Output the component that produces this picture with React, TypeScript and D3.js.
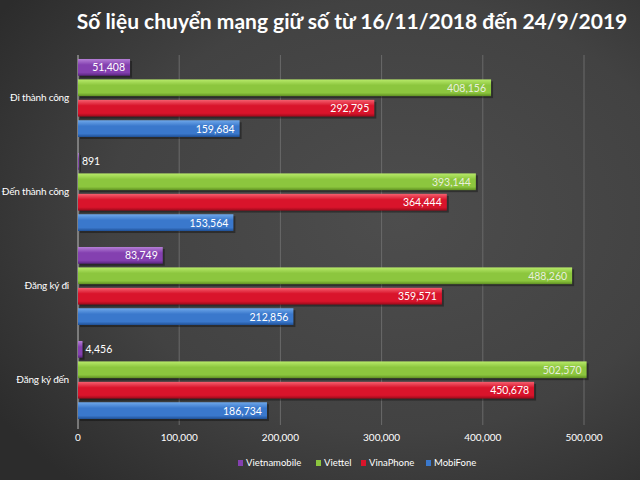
import React from 'react';
import * as d3 from 'd3';

const categories = ['Đi thành công', 'Đến thành công', 'Đăng ký đi', 'Đăng ký đến'];
const seriesNames = ['Vietnamobile', 'Viettel', 'VinaPhone', 'MobiFone'];
const vietnamobile = [51408, 891, 83749, 4456];
const viettel = [408156, 393144, 488260, 502570];
const vinaphone = [292795, 364444, 359571, 450678];
const mobifone = [159684, 153564, 212856, 186734];
const xTicks = [0, 100000, 200000, 300000, 400000, 500000];

const seriesValues = [vietnamobile, viettel, vinaphone, mobifone];
const colors = [
  { light: '#b57fd6', base: '#8440b0', dark: '#5a2480', text: '#ffffff' },
  { light: '#b8ea6a', base: '#8cc63e', dark: '#5f8f22', text: '#e8eedc' },
  { light: '#f5606f', base: '#d9142b', dark: '#9a0a1a', text: '#ffffff' },
  { light: '#6fa8ea', base: '#3a78cc', dark: '#1f4f94', text: '#ffffff' },
];

const width = 640;
const height = 480;
const margin = { top: 55, right: 55, bottom: 55, left: 78 };

export default function App() {
  const x = d3.scaleLinear().domain([0, 500000]).range([margin.left, 584]);
  const y0 = d3.scaleBand().domain(categories).range([51, 427]).paddingInner(0.17).paddingOuter(0.085);
  const y1 = d3.scaleBand().domain(seriesNames).range([0, y0.bandwidth()]).paddingInner(0.18).paddingOuter(0);
  const fmt = d3.format(',');
  const font = 'Lato, "Open Sans", sans-serif';

  return (
    <svg width={width} height={height} style={{ display: 'block', position: 'absolute', left: 0, top: 0 }}>
      <defs>
        <radialGradient id="bg" cx="0.62" cy="0.45" r="0.75">
          <stop offset="0" stopColor="#4d4d4d" />
          <stop offset="0.6" stopColor="#424242" />
          <stop offset="1" stopColor="#2c2c2c" />
        </radialGradient>
        {colors.map((c, i) => (
          <linearGradient key={i} id={`g${i}`} x1="0" y1="0" x2="0" y2="1">
            <stop offset="0" stopColor={c.light} />
            <stop offset="0.35" stopColor={c.base} />
            <stop offset="0.8" stopColor={c.base} />
            <stop offset="1" stopColor={c.dark} />
          </linearGradient>
        ))}
      </defs>
      <rect width={width} height={height} fill="url(#bg)" />
      <text x={352} y={29} textAnchor="middle" fill="#ffffff" fontFamily={font} fontWeight="bold" fontSize={21}>
        Số liệu chuyển mạng giữ số từ 16/11/2018 đến 24/9/2019
      </text>

      {xTicks.map(t => (
        <g key={t}>
          {t > 0 && <line x1={x(t)} x2={x(t)} y1={55} y2={425} stroke="#6a6a6a" strokeWidth={1} />}
          <text x={x(t)} y={441} textAnchor="middle" fill="#ffffff" fontFamily={font} fontSize={10}>
            {fmt(t)}
          </text>
        </g>
      ))}
      <line x1={x(0)} x2={x(0)} y1={55} y2={429} stroke="#bdbdbd" strokeWidth={1} />

      {categories.map((cat, ci) => (
        <g key={cat} transform={`translate(0,${y0(cat)})`}>
          <text x={69} y={y0.bandwidth() / 2 + 3} textAnchor="end" fill="#ffffff" fontFamily={font} fontSize={10} letterSpacing={-0.2}>
            {cat}
          </text>
          {seriesNames.map((s, si) => {
            const v = seriesValues[si][ci];
            const by = y1(s) as number;
            const bw = x(v) - x(0);
            const inside = v > 30000;
            return (
              <g key={s}>
                <rect x={x(0) + 2} y={by + 2} width={bw} height={y1.bandwidth()} fill="#000" opacity={0.35} />
                <rect x={x(0)} y={by} width={bw} height={y1.bandwidth()} fill={`url(#g${si})`} />
                <text
                  x={inside ? x(v) - 5 : x(v) + 3}
                  y={by + y1.bandwidth() / 2 + 4}
                  textAnchor={inside ? 'end' : 'start'}
                  fill={inside ? colors[si].text : '#ffffff'}
                  fontFamily={font}
                  fontSize={10.5}
                >
                  {fmt(v)}
                </text>
              </g>
            );
          })}
        </g>
      ))}

      {(() => {
        const starts = [238, 316, 361, 426];
        return seriesNames.map((s, si) => (
          <g key={s} transform={`translate(${starts[si]},467)`}>
            <rect x={0} y={-7} width={5} height={6} fill={colors[si].base} />
            <text x={8} y={-1} fill="#ffffff" fontFamily={font} fontSize={9.5}>
              {s}
            </text>
          </g>
        ));
      })()}
    </svg>
  );
}
